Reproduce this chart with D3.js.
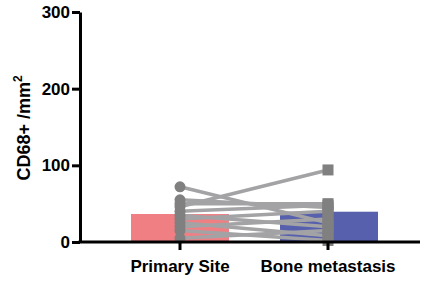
<!DOCTYPE html>
<html>
<head>
<meta charset="utf-8">
<script src="https://cdn.jsdelivr.net/npm/d3@7"></script>
<style>
  body { margin: 0; background: #fff; }
  text { font-family: "Liberation Sans", Arial, sans-serif; font-weight: bold; fill: #000; }
</style>
</head>
<body>
<div id="chart"></div>
<script>
var groups = ["Primary Site", "Bone metastasis"];
var barValues = [36.5, 39.5];
var primaryValues = [72, 55, 50, 46, 40, 35, 30, 25, 20, 15, 5];
var boneValues = [25, 45, 50, 94, 48, 20, 40, 8, 30, 2, 15];
var yTicks = [0, 100, 200, 300];

var width = 425, height = 281;
var margin = {top: 12, right: 5, bottom: 39, left: 80};

var svg = d3.select("#chart").append("svg")
    .attr("width", width)
    .attr("height", height);

var x = d3.scalePoint()
    .domain(groups)
    .range([180, 328]);

var y = d3.scaleLinear()
    .domain([0, 300])
    .range([height - margin.bottom, margin.top]);

var barW = 98;
var colors = ["#f07f84", "#5660ad"];

// bars (means)
svg.selectAll("rect.bar")
    .data(groups)
    .enter()
    .append("rect")
    .attr("class", "bar")
    .attr("x", function (d, i) { return x(d) - (i === 0 ? 49 : 48); })
    .attr("y", function (d, i) { return y(barValues[i]); })
    .attr("width", barW)
    .attr("height", function (d, i) { return y(0) - y(barValues[i]); })
    .style("fill", function (d, i) { return colors[i]; });

// paired lines
var pairs = primaryValues.map(function (v, i) { return [v, boneValues[i]]; });

svg.selectAll("line.pair")
    .data(pairs)
    .enter()
    .append("line")
    .attr("class", "pair")
    .attr("x1", x(groups[0]))
    .attr("x2", x(groups[1]))
    .attr("y1", function (d) { return y(d[0]); })
    .attr("y2", function (d) { return y(d[1]); })
    .style("stroke", "#a3a3a5")
    .style("stroke-width", 3.5);

// primary points
svg.selectAll("circle.pt")
    .data(primaryValues)
    .enter()
    .append("circle")
    .attr("class", "pt")
    .attr("cx", x(groups[0]))
    .attr("cy", function (d) { return y(d); })
    .attr("r", 5.5)
    .style("fill", "#808080");

// bone points
var sq = 11;
svg.selectAll("rect.pt")
    .data(boneValues)
    .enter()
    .append("rect")
    .attr("class", "pt")
    .attr("x", x(groups[1]) - sq / 2)
    .attr("y", function (d) { return y(d) - sq / 2; })
    .attr("width", sq)
    .attr("height", sq)
    .style("fill", "#808080");

// y axis
var yAxis = svg.append("g")
    .attr("transform", "translate(" + margin.left + ",0)")
    .call(d3.axisLeft(y).tickValues(yTicks).tickSize(8).tickPadding(2).tickSizeOuter(0));
yAxis.select(".domain").style("stroke", "#000").style("stroke-width", 3);
yAxis.selectAll(".tick line").style("stroke", "#000").style("stroke-width", 3);
yAxis.selectAll("text").style("font-size", "17px").style("font-family", "Liberation Sans, Arial, sans-serif").style("font-weight", "bold");

// x axis
var xAxis = svg.append("g")
    .attr("transform", "translate(0," + y(0) + ")");
xAxis.append("line")
    .attr("x1", margin.left - 1.5)
    .attr("x2", 420)
    .style("stroke", "#000")
    .style("stroke-width", 3);
xAxis.selectAll("line.tk")
    .data(groups)
    .enter()
    .append("line")
    .attr("class", "tk")
    .attr("x1", function (d) { return x(d); })
    .attr("x2", function (d) { return x(d); })
    .attr("y1", 0)
    .attr("y2", 8)
    .style("stroke", "#000")
    .style("stroke-width", 3);
xAxis.selectAll("text")
    .data(groups)
    .enter()
    .append("text")
    .attr("x", function (d) { return x(d); })
    .attr("y", 30)
    .attr("text-anchor", "middle")
    .style("font-size", "17px")
    .text(function (d) { return d; });

// y label
var yl = svg.append("text")
    .attr("transform", "translate(30,128) rotate(-90)")
    .attr("text-anchor", "middle")
    .style("font-size", "18px");
yl.append("tspan").text("CD68+ /mm");
yl.append("tspan").attr("dy", -8).style("font-size", "12px").text("2");
</script>
</body>
</html>
